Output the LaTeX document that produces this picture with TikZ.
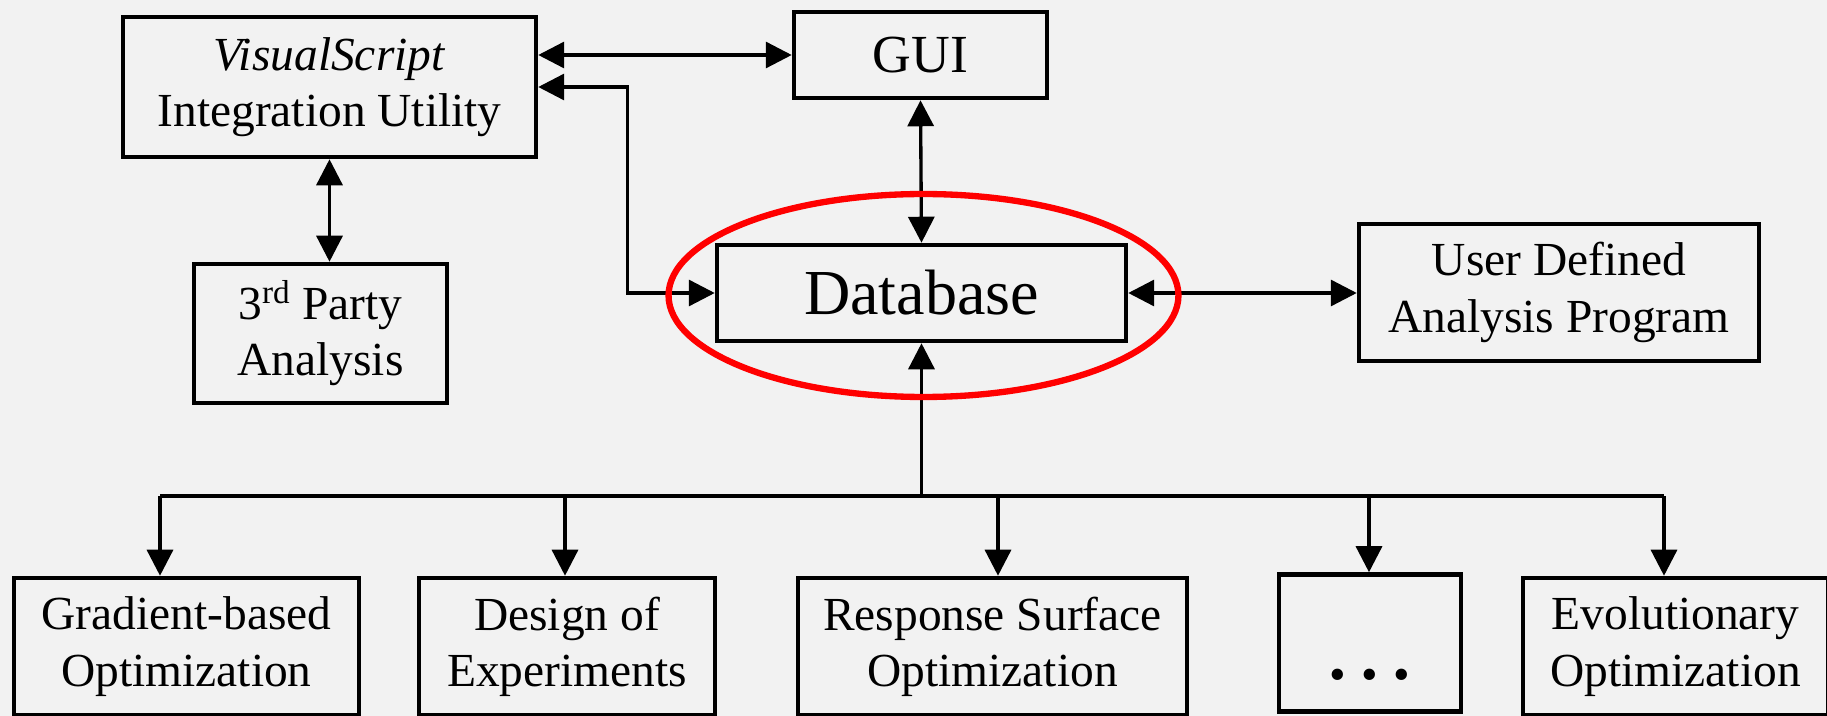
\documentclass[tikz,border=0pt]{standalone}
\usepackage{fontspec}
\setmainfont{Liberation Serif}
\usepackage{xcolor}
\usepackage{tikz}
\usetikzlibrary{arrows.meta,positioning,shapes.geometric,calc}
\definecolor{paneGray}{HTML}{F2F2F2}
\tikzset{
  box/.style={draw, line width=2.6pt, align=center, inner sep=0pt, font=\fontsize{27}{32}\selectfont},
  arr/.style={-{Triangle[length=5.2mm,width=5.2mm]}, line width=1.9pt},
  dblarr/.style={{Triangle[length=5.2mm,width=5.2mm]}-{Triangle[length=5.2mm,width=5.2mm]}, line width=1.9pt},
  bus/.style={line width=2.8pt},
  ring/.style={draw=red, ellipse, line width=3.6pt, inner sep=0pt}
}

\begin{document}
\begin{tikzpicture}[x=0.02cm, y=-0.02cm]
\path[use as bounding box, fill=paneGray] (0,0) rectangle (1827,716);
% upper part
\node[box, minimum width=8.26cm, minimum height=2.8cm] (vs) at (329.5,87) {\textit{VisualScript}\\Integration Utility};
\node[box, minimum width=5.06cm, minimum height=1.72cm, font=\fontsize{30.5}{36}\selectfont] (gui) at (920.5,55) {GUI};
\node[box, minimum width=5.06cm, minimum height=2.78cm] (party) at (320.5,333.5) {3\textsuperscript{rd} Party\\Analysis};
\node[box, minimum width=8.18cm, minimum height=1.92cm, font=\fontsize{36.5}{42}\selectfont] (db) at (921.5,293) {Database};
\node[box, minimum width=8.0cm, minimum height=2.74cm] (user) at (1559,292.5) {User Defined\\Analysis Program};
% optimizers
\node[box, minimum width=6.9cm, minimum height=2.74cm] (grad) at (186.5,646.5) {Gradient-based\\Optimization};
\node[box, minimum width=5.92cm, minimum height=2.74cm] (doe) at (567,646.5) {Design of\\Experiments};
\node[box, minimum width=7.78cm, minimum height=2.74cm] (rsm) at (992.5,646.5) {Response Surface\\Optimization};
\node[box, minimum width=3.64cm, minimum height=2.74cm] (more) at (1370,643) {\smash{\raisebox{-0.95cm}{•\hspace{0.32em}•\hspace{0.32em}•}}};
\node[box, minimum width=6.1cm, minimum height=2.74cm] (evo) at (1675.5,646.5) {Evolutionary\\Optimization};
% links
\draw[dblarr] (vs.east |- gui.west) -- (gui.west);
\draw[dblarr] (vs.east) -- ++(89,0) |- (db.west);
\draw[dblarr] (gui.south) -- (db.north);
\draw[dblarr] (vs.south) -- (vs.south |- party.north);
\draw[dblarr] (db.east) -- (db.east -| user.west);
\coordinate (busL) at (160,496);
\coordinate (busR) at (1664,496);
\draw[bus] (busL) -- (busR);
\draw[arr] (db.south |- busL) -- (db.south);
\foreach \n/\x in {grad/160,doe/565,rsm/998,more/1369,evo/1664}{
  \coordinate (\n-top) at (\x,496);
  \draw[arr] (\n-top) -- (\n-top |- \n.north);
}
\node[ring, minimum width=10.2cm, minimum height=4.06cm] (dbring) at (923.5,295.5) {};
\end{tikzpicture}
\end{document}
